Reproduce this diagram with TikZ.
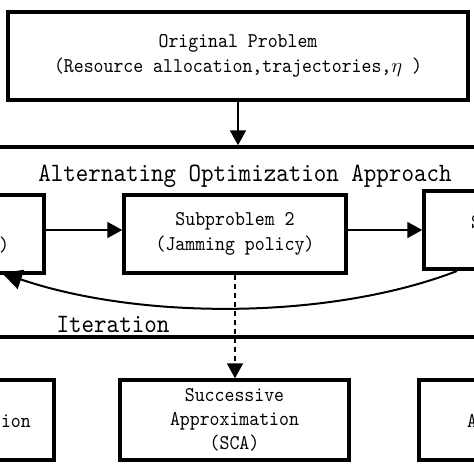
\documentclass[tikz,border=0pt]{standalone}
\usepackage{fontspec}
\newfontfamily\monof{lmmono10-regular.otf}[FakeStretch=0.9]
\usetikzlibrary{arrows.meta}
\begin{document}
\begin{tikzpicture}[x=1pt,y=-1pt,
  boxst/.style={draw,line width=3.5pt,inner sep=0pt,align=center,
    font=\fontsize{21}{25}\selectfont\monof},
  frag/.style={inner sep=0pt,font=\fontsize{21}{25}\selectfont\monof},
  big/.style={inner sep=0pt,font=\fontsize{26.5}{28}\selectfont\monof},
  arr/.style={line width=2pt,-{Triangle[length=15pt,width=16pt]}},
  arrc/.style={line width=2pt,-{Triangle[length=20pt,width=20pt]}}]
\useasboundingbox (0,0) rectangle (474,474);
\clip (0,0) rectangle (474,474);
\fill[white] (0,0) rectangle (474,474);
% big frame
\node[draw,line width=3.5pt,minimum width=540pt,minimum height=190pt] (alt) at (237,242) {};
% top box
\node[boxst,minimum width=460pt,minimum height=88pt] (top) at (238,56)
  {Original Problem\\(Resource allocation,trajectories,$\eta$ )};
\draw[arr] (top.south) -- (top.south |- alt.north);
\node[big,anchor=base] (title) at (245,181) {Alternating Optimization Approach};
% subproblems
\node[boxst,minimum width=224pt,minimum height=78pt] (sub1) at (-68,234) {};
\node[boxst,minimum width=222pt,minimum height=78pt] (sub2) at (235,234)
  {Subproblem 2\\(Jamming policy)};
\node[boxst,minimum width=222pt,minimum height=78pt] (sub3) at (535,230) {};
\node[frag] (s1t) at (4,245) {)};
\node[frag,anchor=base west] (s3t) at (471,228) {S};
\draw[arr] (sub1.east |- sub3.west) -- (sub2.west |- sub3.west);
\draw[arr] (sub2.east |- sub3.west) -- (sub3.west);
\coordinate (cs) at (457,271);
\coordinate (ce) at (2,273);
\draw[arrc] (cs) .. controls (330,320) and (140,320) .. (ce);
\node[big,anchor=base] (iter) at (113,332) {Iteration};
% bottom boxes
\node[boxst,minimum width=229pt,minimum height=80pt] (bl) at (-60.5,420) {};
\node[boxst,minimum width=229pt,minimum height=80pt,font=\fontsize{21}{24}\selectfont\monof] (bm) at (234.5,420)
  {Successive\\Approximation\\(SCA)};
\node[boxst,minimum width=229pt,minimum height=80pt] (br) at (533.5,420) {};
\node[frag,anchor=base east] (blt) at (31,427) {ion};
\node[frag,anchor=base west] (brt) at (467,427) {A};
\draw[arr,dash pattern=on 5pt off 4pt] (sub2.south) -- (sub2.south |- bm.north);
\end{tikzpicture}
\end{document}
